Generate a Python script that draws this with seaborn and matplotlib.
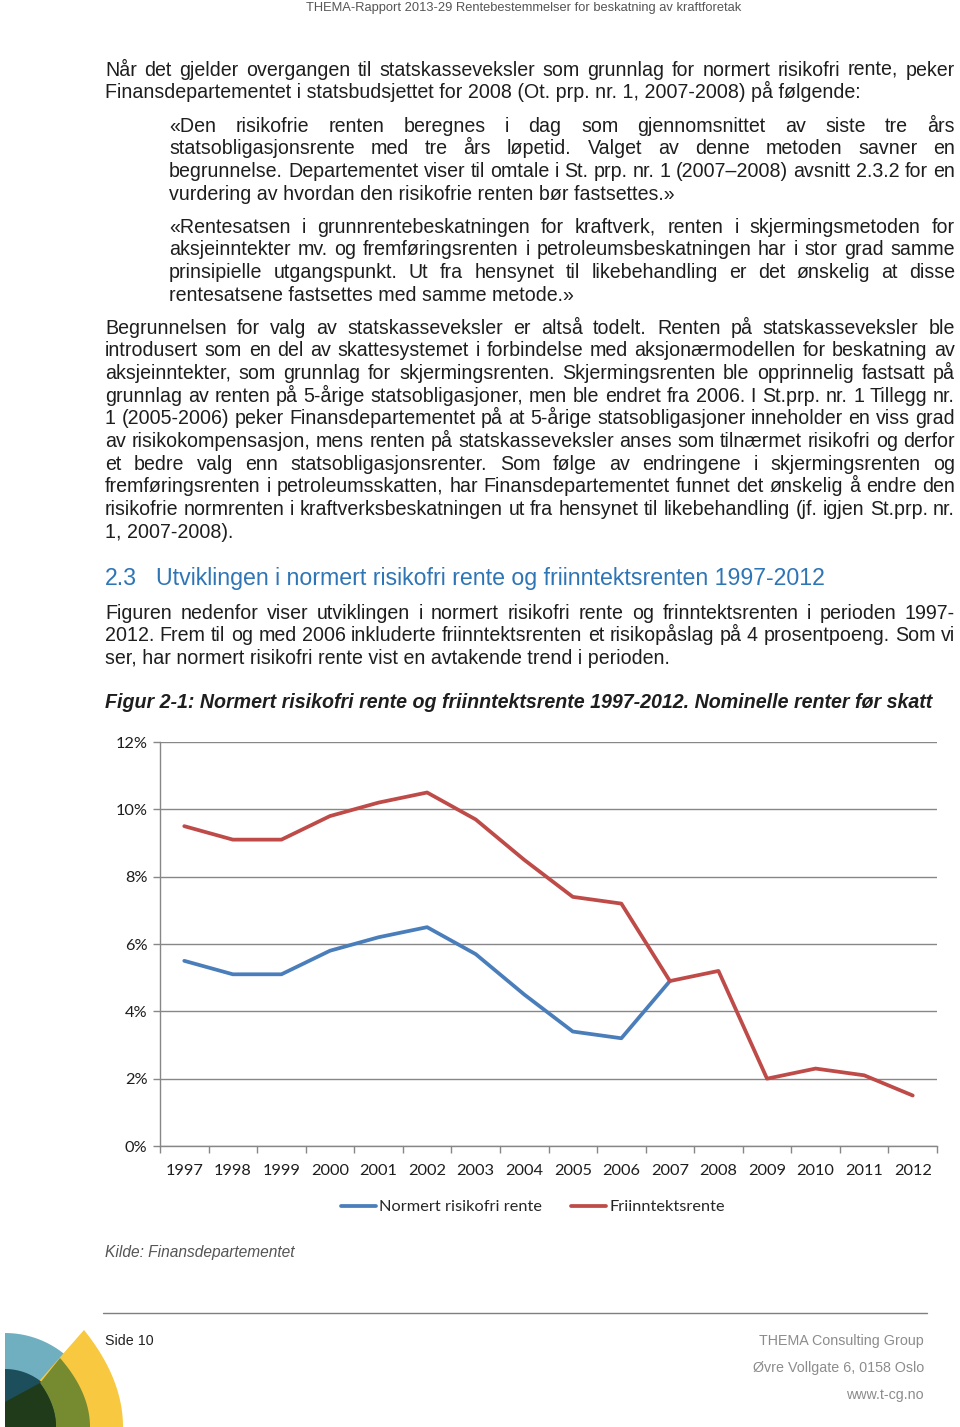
import numpy as np
import pandas as pd
import matplotlib
matplotlib.use("Agg")
import matplotlib.pyplot as plt
import seaborn as sns
from matplotlib.patches import Polygon
from matplotlib.ticker import FixedLocator, FuncFormatter

# Chart data (percent)
years = list(range(1997, 2013))
normert = [5.5, 5.1, 5.1, 5.8, 6.2, 6.5, 5.7, 4.5, 3.4, 3.2, 4.9]
friinntekt = [9.5, 9.1, 9.1, 9.8, 10.2, 10.5, 9.7, 8.5, 7.4, 7.2, 4.9, 5.2, 2.0, 2.3, 2.1, 1.5]
series_names = ["Normert risikofri rente", "Friinntektsrente"]
series_colors = ["#4A7EBB", "#BE4B48"]
y_ticks = [0, 2, 4, 6, 8, 10, 12]

# Page text
header = "THEMA-Rapport 2013-29 Rentebestemmelser for beskatning av kraftforetak"
para1 = [
    "Når det gjelder overgangen til statskasseveksler som grunnlag for normert risikofri rente, peker",
    "Finansdepartementet i statsbudsjettet for 2008 (Ot. prp. nr. 1, 2007-2008) på følgende:",
]
quote1 = [
    "«Den risikofrie renten beregnes i dag som gjennomsnittet av siste tre års",
    "statsobligasjonsrente med tre års løpetid. Valget av denne metoden savner en",
    "begrunnelse. Departementet viser til omtale i St. prp. nr. 1 (2007–2008) avsnitt 2.3.2 for en",
    "vurdering av hvordan den risikofrie renten bør fastsettes.»",
]
quote2 = [
    "«Rentesatsen i grunnrentebeskatningen for kraftverk, renten i skjermingsmetoden for",
    "aksjeinntekter mv. og fremføringsrenten i petroleumsbeskatningen har i stor grad samme",
    "prinsipielle utgangspunkt. Ut fra hensynet til likebehandling er det ønskelig at disse",
    "rentesatsene fastsettes med samme metode.»",
]
para3 = [
    "Begrunnelsen for valg av statskasseveksler er  altså todelt. Renten på statskasseveksler ble",
    "introdusert som en del av skattesystemet i forbindelse med aksjonærmodellen for beskatning av",
    "aksjeinntekter, som grunnlag for skjermingsrenten. Skjermingsrenten ble opprinnelig fastsatt på",
    "grunnlag av renten på 5-årige statsobligasjoner, men ble endret fra 2006. I St.prp. nr. 1 Tillegg nr.",
    "1 (2005-2006) peker Finansdepartementet på at 5-årige statsobligasjoner inneholder en viss grad",
    "av risikokompensasjon, mens renten på statskasseveksler anses som tilnærmet risikofri og derfor",
    "et bedre valg enn statsobligasjonsrenter. Som følge av endringene i skjermingsrenten og",
    "fremføringsrenten i petroleumsskatten, har Finansdepartementet funnet det ønskelig å endre den",
    "risikofrie normrenten i kraftverksbeskatningen ut fra hensynet til likebehandling (jf. igjen St.prp. nr.",
    "1, 2007-2008).",
]
heading_num = "2.3"
heading = "Utviklingen i normert risikofri rente og friinntektsrenten 1997-2012"
para4 = [
    "Figuren nedenfor viser utviklingen i normert risikofri rente og frinntektsrenten i perioden 1997-",
    "2012. Frem til og med 2006 inkluderte friinntektsrenten et risikopåslag på 4 prosentpoeng. Som vi",
    "ser, har normert risikofri rente vist en avtakende trend i perioden.",
]
caption = "Figur 2-1: Normert risikofri rente og friinntektsrente 1997-2012. Nominelle renter før skatt"
source = "Kilde: Finansdepartementet"
footer_left = "Side 10"
footer_right = ["THEMA Consulting Group", "Øvre Vollgate 6, 0158 Oslo", "www.t-cg.no"]

sns.set_style("white")
plt.rcParams["font.family"] = ["Lato", "DejaVu Sans"]

W, H = 960, 1427
fig = plt.figure(figsize=(W / 100, H / 100), dpi=100)
page = fig.add_axes([0, 0, 1, 1])
page.set_xlim(0, W)
page.set_ylim(H, 0)
page.axis("off")
r = fig.canvas.get_renderer()

BODY = ["Liberation Sans", "DejaVu Sans"]
TXT = "#1e1e1e"


def width_of(s, **kw):
    t = page.text(0, 0, s, **kw)
    w = t.get_window_extent(r).width
    t.remove()
    return w


# calibrate the body font size on the unjustified last line of paragraph 1
body_size = 12.7 * 752 / width_of(para1[1], family=BODY, fontsize=12.7)


def block(lines, x0, x1, y_center, step=22.67, justify_last=False, **kw):
    kw.setdefault("family", BODY)
    kw.setdefault("fontsize", body_size)
    kw.setdefault("color", TXT)
    for i, line in enumerate(lines):
        y = y_center + i * step + 6.6
        words = line.split()
        if (i == len(lines) - 1 and not justify_last) or len(words) == 1:
            page.text(x0, y, line, va="baseline", **kw)
            continue
        objs = [page.text(0, y, w, va="baseline", **kw) for w in words]
        widths = [o.get_window_extent(r).width for o in objs]
        gap = (x1 - x0 - sum(widths)) / (len(words) - 1)
        x = x0
        for o, w in zip(objs, widths):
            o.set_x(x)
            x += w + gap


page.text(741, 11, header, family=BODY, fontsize=9.3, color="#555555", ha="right", va="baseline")
block(para1, 105, 955, 69)
block(quote1, 169, 955, 125)
block(quote2, 169, 955, 226)
block(para3, 105, 955, 327)

page.text(105, 585, heading_num, family=BODY, fontsize=16.7, color="#2E75B6", va="baseline")
page.text(156, 585, heading, family=BODY, fontsize=16.7, color="#2E75B6", va="baseline")
block(para4, 105, 955, 612)
page.text(105, 708, caption, family=BODY, fontsize=body_size, color=TXT,
          weight="bold", style="italic", va="baseline")
page.text(105, 1257, source, family=BODY, fontsize=11.2, color="#555555", style="italic", va="baseline")

# footer
page.plot([103, 927], [1313, 1313], color="#7f7f7f", lw=1)
page.text(105, 1345, footer_left, family=BODY, fontsize=10.3, color="#222222", va="baseline")
for i, s in enumerate(footer_right):
    page.text(924, 1345 + i * 27, s, family=BODY, fontsize=10.3, color="#8c8c8c", ha="right", va="baseline")


# logo: nested arches in the bottom-left corner
def quarter(rad):
    t = np.linspace(0, np.pi / 2, 40)
    pts = np.column_stack([5 + rad * np.cos(t), H - rad * np.sin(t)])
    return np.vstack([[5, H], pts])


def arch_curve(px, py, ex):
    s = np.linspace(0, 1, 40)
    return np.column_stack([px + (ex - px) * (1 - (1 - s) ** 2), py + (H - py) * s])


yellow = np.vstack([arch_curve(84, 1330, 123), [[5, H], [5, 1420]]])
olive = np.vstack([arch_curve(60, 1358, 90), arch_curve(40, 1383, 56)[::-1]])
dgreen = np.vstack([arch_curve(40, 1383, 56), [[5, H], [5, 1402]]])
for pts, col in [(quarter(94), "#6FAFBF"), (yellow, "#F8C840"), (quarter(58), "#1C4E5B"),
                 (olive, "#768A2F"), (dgreen, "#1F3B19")]:
    page.add_patch(Polygon(pts, closed=True, facecolor=col, edgecolor="none"))

# chart
ax = fig.add_axes([160 / W, 1 - 1146 / H, (937 - 160) / W, (1146 - 742) / H])
df = pd.concat([
    pd.DataFrame({"year": years[:len(normert)], "rate": normert, "serie": series_names[0]}),
    pd.DataFrame({"year": years, "rate": friinntekt, "serie": series_names[1]}),
])
sns.lineplot(data=df, x="year", y="rate", hue="serie", hue_order=series_names,
             palette=dict(zip(series_names, series_colors)), linewidth=2.7,
             solid_joinstyle="round", legend=False, ax=ax)

ax.set_xlim(years[0] - 0.5, years[-1] + 0.5)
ax.set_ylim(0, 12)
ax.set_xlabel("")
ax.set_ylabel("")
ax.set_xticks(years)
ax.set_xticklabels([str(y) for y in years])
ax.xaxis.set_minor_locator(FixedLocator(np.arange(years[0] - 0.5, years[-1] + 1, 1)))
ax.set_yticks(y_ticks)
ax.yaxis.set_major_formatter(FuncFormatter(lambda v, p: f"{v:.0f}%"))
ax.tick_params(axis="x", which="major", length=0, pad=13, labelsize=11.8, labelcolor="#1e1e1e")
ax.tick_params(axis="x", which="minor", length=5, width=1, color="#878787", bottom=True)
ax.tick_params(axis="y", length=5, width=1, color="#878787", pad=4, labelsize=11.8,
               labelcolor="#1e1e1e", left=True)
ax.grid(axis="y", color="#878787", lw=1)
ax.set_axisbelow(True)
for side in ["top", "right"]:
    ax.spines[side].set_visible(False)
for side in ["left", "bottom"]:
    ax.spines[side].set_color("#878787")
    ax.spines[side].set_linewidth(1)

ax.legend(handles=ax.get_lines()[:2], labels=series_names, loc="center",
          bbox_to_anchor=(533 / W, 1 - 1207 / H), bbox_transform=fig.transFigure,
          ncol=2, frameon=False, fontsize=11.8, handlelength=2.1, handletextpad=0.2,
          columnspacing=1.8)

fig.savefig("out.png", dpi=100, facecolor="white")
